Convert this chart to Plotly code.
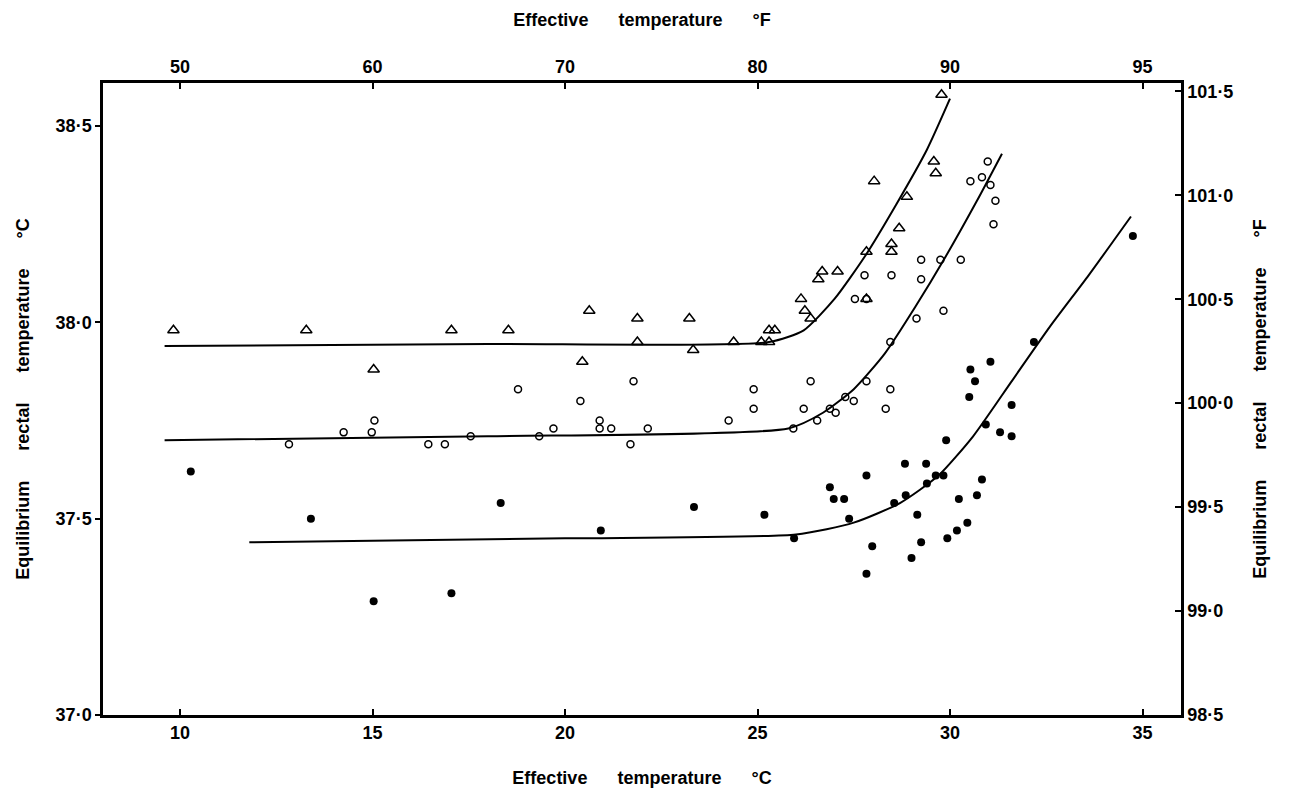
import plotly.graph_objects as go

# ---- data (effective temperature °C, equilibrium rectal temperature °C) ----
tri_x = [9.83, 13.28, 15.03, 17.05, 18.53, 20.45, 20.63, 21.88, 21.88, 23.23, 23.33, 24.38,
         25.10, 25.30, 25.30, 25.45, 26.13, 26.23, 26.38, 26.58, 26.68, 27.08, 27.83, 27.83,
         28.03, 28.48, 28.48, 28.68, 28.88, 29.58, 29.63, 29.78]
tri_y = [37.98, 37.98, 37.88, 37.98, 37.98, 37.90, 38.03, 38.01, 37.95, 38.01, 37.93, 37.95,
         37.95, 37.95, 37.98, 37.98, 38.06, 38.03, 38.01, 38.11, 38.13, 38.13, 38.18, 38.06,
         38.36, 38.20, 38.18, 38.24, 38.32, 38.41, 38.38, 38.58]

open_x = [12.83, 14.25, 14.98, 15.05, 16.45, 16.88, 17.55, 18.78, 19.33, 19.70, 20.40, 20.90,
          20.90, 21.20, 21.70, 21.78, 22.15, 24.25, 24.90, 24.90, 25.93, 26.20, 26.38, 26.55,
          26.88, 27.03, 27.28, 27.50, 27.53, 27.78, 27.83, 27.83, 28.33, 28.45, 28.45, 28.48,
          29.13, 29.25, 29.25, 29.75, 29.83, 30.28, 30.53, 30.83, 30.98, 31.05, 31.13, 31.18]
open_y = [37.69, 37.72, 37.72, 37.75, 37.69, 37.69, 37.71, 37.83, 37.71, 37.73, 37.80, 37.75,
          37.73, 37.73, 37.69, 37.85, 37.73, 37.75, 37.83, 37.78, 37.73, 37.78, 37.85, 37.75,
          37.78, 37.77, 37.81, 37.80, 38.06, 38.12, 37.85, 38.06, 37.78, 37.83, 37.95, 38.12,
          38.01, 38.16, 38.11, 38.16, 38.03, 38.16, 38.36, 38.37, 38.41, 38.35, 38.25, 38.31]

fill_x = [10.28, 13.40, 15.03, 17.05, 18.33, 20.93, 23.35, 25.18, 25.95, 26.88, 26.98, 27.25,
          27.38, 27.83, 27.83, 27.98, 28.55, 28.83, 28.85, 29.00, 29.15, 29.25, 29.38, 29.40,
          29.63, 29.83, 29.90, 29.93, 30.18, 30.23, 30.45, 30.50, 30.53, 30.65, 30.70, 30.83,
          30.93, 31.05, 31.30, 31.60, 31.60, 32.18, 34.75]
fill_y = [37.62, 37.50, 37.29, 37.31, 37.54, 37.47, 37.53, 37.51, 37.45, 37.58, 37.55, 37.55,
          37.50, 37.61, 37.36, 37.43, 37.54, 37.64, 37.56, 37.40, 37.51, 37.44, 37.64, 37.59,
          37.61, 37.61, 37.70, 37.45, 37.47, 37.55, 37.49, 37.81, 37.88, 37.85, 37.56, 37.60,
          37.74, 37.90, 37.72, 37.79, 37.71, 37.95, 38.22]

# fitted curves
tri_line_x = [9.6, 18.0, 25.3, 26.2, 27.0, 27.8, 28.6, 29.4, 30.0]
tri_line_y = [37.94, 37.945, 37.95, 37.98, 38.06, 38.17, 38.30, 38.44, 38.57]
open_line_x = [9.6, 18.0, 25.8, 26.7, 27.5, 28.3, 29.1, 29.9, 30.7, 31.35]
open_line_y = [37.70, 37.71, 37.73, 37.77, 37.83, 37.92, 38.04, 38.17, 38.31, 38.43]
fill_line_x = [11.8, 20.0, 26.0, 27.5, 28.7, 29.7, 30.6, 31.6, 32.6, 33.6, 34.7]
fill_line_y = [37.44, 37.45, 37.46, 37.49, 37.54, 37.61, 37.71, 37.85, 37.99, 38.12, 38.27]

x_ticks = [10, 15, 20, 25, 30, 35]
top_tick_text = ["50", "60", "70", "80", "90", "95"]
yC_ticks = [37.0, 37.5, 38.0, 38.5]
yC_text = ["37·0", "37·5", "38·0", "38·5"]
yF_ticks = [98.5, 99.0, 99.5, 100.0, 100.5, 101.0, 101.5]
yF_text = ["98·5", "99·0", "99·5", "100·0", "100·5", "101·0", "101·5"]

FONT = "Liberation Sans"
fig = go.Figure()
line_style = dict(color="black", width=2, shape="spline", smoothing=0.6)
fig.add_trace(go.Scatter(x=tri_line_x, y=tri_line_y, mode="lines", line=line_style, hoverinfo="skip"))
fig.add_trace(go.Scatter(x=open_line_x, y=open_line_y, mode="lines", line=line_style, hoverinfo="skip"))
fig.add_trace(go.Scatter(x=fill_line_x, y=fill_line_y, mode="lines", line=line_style, hoverinfo="skip"))
fig.add_trace(go.Scatter(x=tri_x, y=tri_y, mode="markers",
                         marker=dict(symbol="triangle-up-open", size=10, color="black", line=dict(width=1.5))))
fig.add_trace(go.Scatter(x=open_x, y=open_y, mode="markers",
                         marker=dict(symbol="circle-open", size=7, color="black", line=dict(width=1.5))))
fig.add_trace(go.Scatter(x=fill_x, y=fill_y, mode="markers",
                         marker=dict(symbol="circle", size=8, color="black")))
# empty trace so the secondary (°F) axes are drawn
fig.add_trace(go.Scatter(x=[None], y=[None], xaxis="x2", yaxis="y2", mode="markers",
                         hoverinfo="skip", showlegend=False))

tickfont = dict(family=FONT, size=18, color="black", weight="bold")
titlefont = dict(family=FONT, size=18, color="black", weight="bold")
nb = "\u00a0" * 6
fig.update_layout(
    width=1297, height=799, showlegend=False,
    paper_bgcolor="white", plot_bgcolor="white",
    margin=dict(l=103, r=116, t=83, b=84),
    xaxis=dict(range=[8, 36], tickvals=x_ticks, ticktext=[str(v) for v in x_ticks],
               ticks="inside", ticklen=6, tickwidth=2, tickcolor="black",
               showline=True, linecolor="black", linewidth=2.5, showgrid=False, zeroline=False,
               tickfont=tickfont,
               title=dict(text="Effective" + nb + "temperature" + nb + "°C", font=titlefont, standoff=30)),
    xaxis2=dict(range=[8, 36], overlaying="x", side="top", anchor="y",
                tickvals=x_ticks, ticktext=top_tick_text,
                ticks="inside", ticklen=6, tickwidth=2, tickcolor="black",
                showline=True, linecolor="black", linewidth=2.5, showgrid=False, zeroline=False,
                tickfont=tickfont,
                title=dict(text="Effective" + nb + "temperature" + nb + "°F", font=titlefont, standoff=26)),
    yaxis=dict(range=[37.0, 38.61], tickvals=yC_ticks, ticktext=yC_text,
               ticks="outside", ticklen=5, tickwidth=2, tickcolor="black",
               showline=True, linecolor="black", linewidth=2.5, showgrid=False, zeroline=False,
               tickfont=tickfont,
               title=dict(text="Equilibrium" + nb + "rectal" + nb + "temperature" + nb + "°C", font=titlefont, standoff=22)),
    yaxis2=dict(range=[98.5, 101.54], overlaying="y", side="right", anchor="x",
                tickvals=yF_ticks, ticktext=yF_text,
                ticks="inside", ticklen=6, tickwidth=2, tickcolor="black",
                showline=True, linecolor="black", linewidth=2.5, showgrid=False, zeroline=False,
                tickfont=tickfont,
                title=dict(text="Equilibrium" + nb + "rectal" + nb + "temperature" + nb + "°F", font=titlefont, standoff=22)),
)
fig.write_html("out.html")
